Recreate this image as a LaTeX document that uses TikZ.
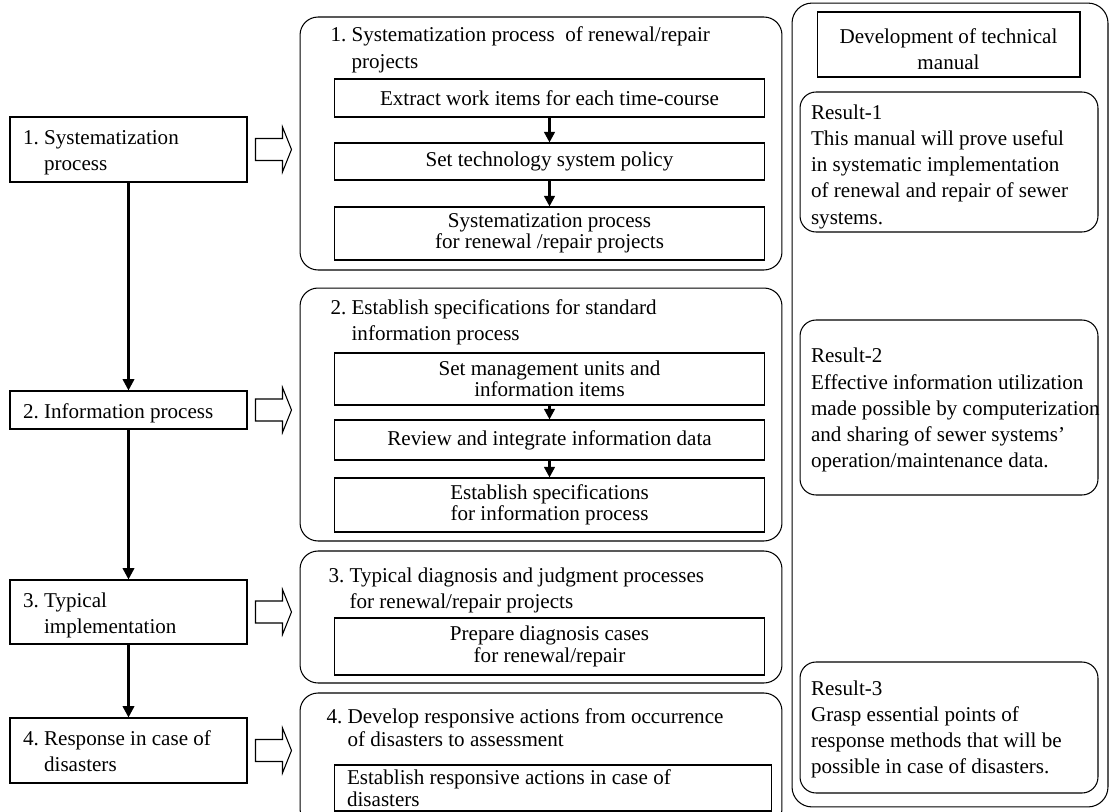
\documentclass[tikz,border=0pt]{standalone}
\usepackage{fontspec}
\setmainfont{Liberation Serif}
\usepackage{tikz}
\usetikzlibrary{arrows.meta}
\frenchspacing

\newcommand\numitem[2]{#1\ \begin{tabular}[t]{@{}l@{}}\rule{0pt}{14pt}#2\end{tabular}}
\newcommand\textlines[2][4pt]{\makebox[5.52cm][l]{\raisebox{-#1}[0pt][0pt]{\begin{tabular}{@{}l@{}}#2\end{tabular}}}}
\newcommand\openarrow[1]{%
  \draw[line width=0.6pt] (#1.east) ++(8,-11) -- ++(27,0) -- ++(0,-11.5)
    -- ++(9,22.5) -- ++(-9,22.5) -- ++(0,-11.5) -- ++(-27,0) -- cycle;}

\begin{document}
\begin{tikzpicture}[x=0.02cm, y=-0.02cm,
    every node/.style={font=\fontsize{12}{14.9}\selectfont, line width=0.6pt},
    leftbox/.style={draw, text width=4.22cm, inner xsep=0.26cm, inner ysep=0pt, align=flush left},
    midbox/.style={draw, rounded corners=0.36cm, minimum width=9.64cm},
    headtext/.style={inner sep=0pt, anchor=base west},
    stepbox/.style={draw, minimum width=8.62cm, inner sep=0pt, align=center,
      font=\fontsize{12}{12.2}\selectfont},
    resultbox/.style={draw, rounded corners=0.32cm, minimum width=5.96cm, inner xsep=0.22cm, inner ysep=0pt},
    flowarrow/.style={line width=1.4pt, -{Triangle[length=6.5pt, width=6.5pt]}},
    smallarrow/.style={line width=1.4pt, -{Triangle[length=6pt, width=6pt]}}]
        \useasboundingbox (0,0) rectangle (1111,811);

        % process steps (left)
        \node[leftbox, minimum height=1.3cm] (L1) at (128.5,149.5) {\numitem{1.}{Systematization\\process}};
        \node[leftbox, minimum height=0.76cm] (L2) at (128.5,410) {\numitem{2.}{Information process}};
        \node[leftbox, minimum height=1.28cm] (L3) at (128.5,612) {\numitem{3.}{Typical\\implementation}};
        \node[leftbox, minimum height=1.3cm] (L4) at (128.5,750.5) {\numitem{4.}{Response in case of\\disasters}};
        \draw[flowarrow] (L1) -- (L2);
        \draw[flowarrow] (L2) -- (L3);
        \draw[flowarrow] (L3) -- (L4);
        \openarrow{L1}
        \openarrow{L2}
        \openarrow{L3}
        \openarrow{L4}

        % contents (middle)
        \node[midbox, minimum height=5.06cm] (M1) at (541,143.5) {};
        \node[midbox, minimum height=5.06cm] (M2) at (541,414.5) {};
        \node[midbox, minimum height=2.64cm] (M3) at (541,617) {};
        \node[midbox, minimum height=2.68cm] (M4) at (541,760) {};

        \node[headtext] (T1) at (330,42) {\numitem{1.}{Systematization process~ of renewal/repair\\projects}};
        \node[stepbox, minimum height=0.76cm] (A1) at (549.5,98) {Extract work items for each time-course};
        \node[stepbox, minimum height=0.74cm] (A2) at (549.5,161.5) {Set technology system policy};
        \node[stepbox, minimum height=1.06cm] (A3) at (549.5,233.5) {Systematization process\\for renewal /repair projects};
        \draw[smallarrow] (A1) -- (A2);
        \draw[smallarrow] (A2) -- (A3);

        \node[headtext] (T2) at (330,314) {\numitem{2.}{Establish specifications for standard\\information process}};
        \node[stepbox, minimum height=1.04cm] (B1) at (549.5,379) {Set management units and\\information items};
        \node[stepbox, minimum height=0.8cm] (B2) at (549.5,440) {Review and integrate information data};
        \node[stepbox, minimum height=1.08cm] (B3) at (549.5,505) {Establish specifications\\for information process};
        \draw[smallarrow] (B1) -- (B2);
        \draw[smallarrow] (B2) -- (B3);

        \node[headtext] (T3) at (328,582) {\numitem{3.}{Typical diagnosis and judgment processes\\for renewal/repair projects}};
        \node[stepbox, minimum height=1.14cm] (C1) at (549.5,646.5) {Prepare diagnosis cases\\for renewal/repair};

        \node[headtext, font=\fontsize{12}{13.2}\selectfont] (T4) at (326,723) {\numitem{4.}{Develop responsive actions from occurrence\\of disasters to assessment}};
        \node[stepbox, minimum width=8.76cm, minimum height=0.92cm, text width=8.24cm, inner xsep=0.26cm,
          align=flush left, font=\fontsize{12}{12.4}\selectfont] (D1) at (553,788) {Establish responsive actions in case of\\disasters};

        % results (right)
        \node[draw, rounded corners=0.4cm, minimum width=6.32cm, minimum height=16.08cm] (R) at (950,405) {};
        \node[draw, minimum width=5.26cm, minimum height=1.3cm, align=center] (dev) at (948.5,44.5)
          {\rule{0pt}{13.5pt}Development of technical\\manual};
        \node[resultbox, minimum height=2.8cm] (res1) at (949,162)
          {\textlines[5.6pt]{Result-1\\This manual will prove useful\\in systematic implementation\\of renewal and repair of sewer\\systems.}};
        \node[resultbox, minimum height=3.5cm] (res2) at (949,407.5)
          {\textlines[4.4pt]{Result-2\\Effective information utilization\\made possible by computerization\\and sharing of sewer systems’\\operation/maintenance data.}};
        \node[resultbox, minimum height=2.62cm] (res3) at (949,727.5)
          {\textlines[3.9pt]{Result-3\\Grasp essential points of\\response methods that will be\\possible in case of disasters.}};

    \end{tikzpicture}
\end{document}
